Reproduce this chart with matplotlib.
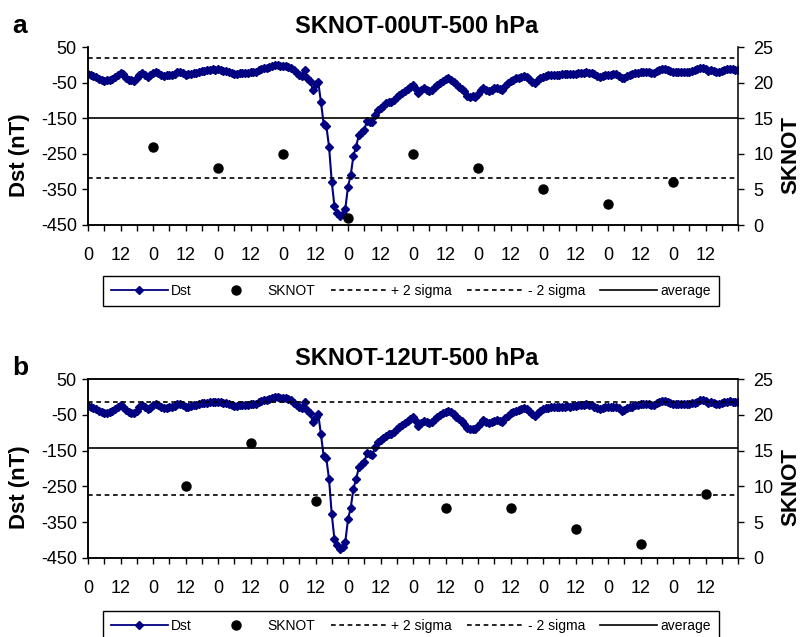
import matplotlib
matplotlib.use('Agg')
import matplotlib.pyplot as plt
from matplotlib.lines import Line2D

plt.rcParams['font.family'] = ['Liberation Sans', 'DejaVu Sans']

# ---------------- data ----------------
hours = list(range(241))
dst = [
    -26, -28, -31, -35, -39, -43, -46, -44, -42, -40,
    -35, -28, -24, -27, -36, -42, -44, -45, -38, -29,
    -24, -29, -35, -30, -22, -19, -23, -28, -31, -30,
    -29, -28, -25, -21, -19, -24, -29, -27, -25, -23,
    -22, -20, -18, -17, -16, -14, -13, -14, -13, -15,
    -17, -18, -21, -24, -26, -25, -23, -22, -22, -23,
    -21, -20, -19, -15, -12, -10, -8, -5, -3, -1,
    -1, -2, -2, -3, -5, -9, -16, -23, -28, -31,
    -15, -37, -45, -70, -55, -48, -104, -165, -172, -230,
    -328, -398, -415, -424, -420, -405, -342, -310, -256, -230,
    -197, -188, -183, -157, -160, -162, -141, -127, -120, -115,
    -108, -104, -104, -98, -90, -84, -78, -73, -68, -62,
    -57, -68, -80, -72, -66, -70, -74, -70, -62, -57,
    -50, -45, -41, -38, -42, -47, -55, -61, -68, -75,
    -88, -90, -89, -90, -82, -72, -64, -70, -74, -70,
    -66, -64, -68, -70, -60, -52, -46, -42, -38, -36,
    -34, -32, -35, -40, -47, -52, -44, -38, -34, -31,
    -30, -29, -29, -28, -28, -27, -27, -26, -27, -26,
    -25, -24, -23, -22, -21, -22, -24, -27, -31, -33,
    -31, -29, -29, -28, -27, -27, -32, -38, -36, -31,
    -29, -27, -24, -22, -21, -20, -19, -21, -23, -22,
    -18, -15, -12, -12, -15, -18, -19, -20, -21, -21,
    -20, -19, -19, -18, -16, -13, -10, -8, -12, -18,
    -15, -17, -20, -21, -18, -15, -13, -12, -13, -14,
    -15,
]

sknot_a_hours = [24, 48, 72, 96, 120, 144, 168, 192, 216]
sknot_a = [11, 8, 10, 1, 10, 8, 5, 3, 6]
sknot_b_hours = [36, 60, 84, 132, 156, 180, 204, 228]
sknot_b = [10, 16, 8, 7, 7, 4, 2, 9]

plus2_a, minus2_a, avg_a = 23.4, 6.6, 15.0
plus2_b, minus2_b, avg_b = 21.8, 8.8, 15.4

titles = ['SKNOT-00UT-500 hPa', 'SKNOT-12UT-500 hPa']
panel_letters = ['a', 'b']
left_ticks = [50, -50, -150, -250, -350, -450]
right_ticks = [0, 5, 10, 15, 20, 25]
legend_labels = ['Dst', 'SKNOT', '+ 2 sigma', '- 2 sigma', 'average']

# ---------------- figure ----------------
W, H = 802, 637
fig = plt.figure(figsize=(W / 100, H / 100), dpi=100)
fig.patch.set_facecolor('white')

NAVY = '#000080'

def fx(px):
    return px / W

def fy(py):
    return 1 - py / H

panels = [
    dict(top=47, bot=225, sk_h=sknot_a_hours, sk=sknot_a, p2=plus2_a, m2=minus2_a,
         avg=avg_a, topspine=False, title_y=33, letter_y=33, leg_y=291),
    dict(top=379, bot=558, sk_h=sknot_b_hours, sk=sknot_b, p2=plus2_b, m2=minus2_b,
         avg=avg_b, topspine=True, title_y=365, letter_y=375, leg_y=626),
]

xticks = list(range(0, 241, 6))
xlabels = []
for t in xticks:
    if t >= 240:
        xlabels.append('')
    elif t % 24 == 0:
        xlabels.append('0')
    elif t % 12 == 0:
        xlabels.append('12')
    else:
        xlabels.append('')

L, R = 88, 738
for i, p in enumerate(panels):
    ax = fig.add_axes([fx(L), fy(p['bot']), fx(R - L), (p['bot'] - p['top']) / H])
    ax.plot(hours, dst, color=NAVY, lw=1.5, marker='D', ms=3.8, mec=NAVY, mfc=NAVY,
            zorder=3)
    ax.set_xlim(0, 240)
    ax.set_ylim(-450, 50)
    ax.set_yticks(left_ticks)
    ax.set_yticklabels([str(v) for v in left_ticks], fontsize=13)
    ax.set_xticks(xticks)
    ax.set_xticklabels(xlabels, fontsize=13)
    ax.tick_params(axis='x', direction='out', length=4, width=1, pad=12)
    ax.tick_params(axis='y', direction='out', length=4, width=1, pad=4)

    ax2 = ax.twinx()
    ax2.set_ylim(0, 25)
    ax2.set_yticks(right_ticks)
    ax2.set_yticklabels([str(v) for v in right_ticks], fontsize=13)
    ax2.tick_params(axis='y', direction='out', length=4, width=1, pad=7)
    ax2.plot(p['sk_h'], p['sk'], linestyle='none', marker='o', ms=6.5, color='black',
             zorder=4)
    ax2.axhline(p['p2'], color='black', lw=1.2, ls=(0, (2.8, 2.2)))
    ax2.axhline(p['m2'], color='black', lw=1.2, ls=(0, (2.8, 2.2)))
    ax2.axhline(p['avg'], color='black', lw=1.2)

    for a in (ax, ax2):
        for s in a.spines.values():
            s.set_linewidth(1.1)
        a.spines['top'].set_visible(p['topspine'])
    ax.spines['right'].set_visible(False)

    cy = (p['top'] + p['bot']) / 2 + 19
    fig.text(fx(20), fy(cy), 'Dst (nT)', rotation=90, ha='center', va='center',
             fontsize=16, fontweight='bold')
    fig.text(fx(791), fy(cy), 'SKNOT', rotation=90, ha='center', va='center',
             fontsize=16, fontweight='bold')
    fig.text(fx(417), fy(p['title_y']), titles[i], ha='center', va='baseline',
             fontsize=17, fontweight='bold')
    fig.text(fx(12), fy(p['letter_y']), panel_letters[i], ha='left', va='baseline',
             fontsize=19, fontweight='bold')

    handles = [
        Line2D([], [], color=NAVY, lw=1.3, marker='D', ms=4),
        Line2D([], [], color='black', ls='none', marker='o', ms=6.5),
        Line2D([], [], color='black', lw=1.2, ls=(0, (2.8, 2.2))),
        Line2D([], [], color='black', lw=1.2, ls=(0, (2.8, 2.2))),
        Line2D([], [], color='black', lw=1.2),
    ]
    leg = fig.legend(handles, legend_labels, loc='center',
                     bbox_to_anchor=(fx(411), fy(p['leg_y'])), ncol=5, fontsize=10,
                     handlelength=4.1, handletextpad=0.25, columnspacing=1.1,
                     borderpad=0.6, frameon=True, fancybox=False, numpoints=1,
                     borderaxespad=0)
    fr = leg.get_frame()
    fr.set_edgecolor('black')
    fr.set_linewidth(1.0)
    fr.set_alpha(1)

fig.savefig('out.png', dpi=100, facecolor='white')
